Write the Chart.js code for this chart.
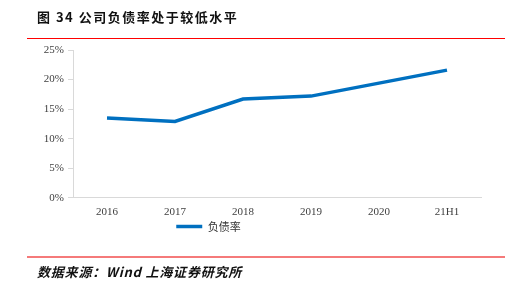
<!DOCTYPE html>
<html>
<head>
<meta charset="utf-8">
<script src="https://cdn.jsdelivr.net/npm/chart.js@4.4.0/dist/chart.umd.min.js"></script>
<style>
    html, body { margin: 0; padding: 0; background: #ffffff; }
    #wrap { position: relative; width: 524px; height: 283px; overflow: hidden; }
    #chart { position: absolute; left: 0; top: 0; }
    .title {
        position: absolute; left: 37px; top: 7px;
        font-family: "Noto Sans CJK SC", sans-serif; font-weight: bold;
        font-size: 13px; letter-spacing: 1.5px; color: #111111; white-space: nowrap;
    }
    .rule-top { position: absolute; left: 27px; top: 38px; width: 478px; height: 1px; background: #ff0000; }
    .rule-bottom { position: absolute; left: 27px; top: 256px; width: 478px; height: 2px; background: #f57a7a; }
    .source {
        position: absolute; left: 37px; top: 262px;
        font-family: "Noto Sans CJK SC", sans-serif; font-weight: bold; font-style: italic;
        font-size: 13px; letter-spacing: 0.8px; color: #111111; white-space: nowrap;
    }
</style>
</head>
<body>
<div id="wrap">
    <canvas id="chart" width="524" height="283"></canvas>
    <div class="title">图 34 公司负债率处于较低水平</div>
    <div class="rule-top"></div>
    <div class="rule-bottom"></div>
    <div class="source">数据来源：Wind 上海证券研究所</div>
</div>
<script>
const categories = ['2016', '2017', '2018', '2019', '2020', '21H1'];
const debtRatio = [13.5, 12.9, 16.7, 17.2, 19.4, 21.6];
const seriesName = '负债率';

const ctx = document.getElementById('chart');

// nudge the legend up and left so it sits where the original one is
const legendShift = {
    id: 'legendShift',
    afterLayout: function(chart) {
        if (chart.legend) {
            chart.legend.top -= 6;
            chart.legend.bottom -= 6;
            chart.legend.left -= 32;
            chart.legend.right -= 32;
        }
    }
};

const data = {
    labels: categories,
    datasets: [
        {
            label: seriesName,
            data: debtRatio,
            borderColor: '#0070c0',
            backgroundColor: '#0070c0',
            borderWidth: 3.5,
            pointRadius: 0,
            tension: 0
        }
    ]
};

const config = {
    type: 'line',
    data: data,
    plugins: [legendShift],
    options: {
        responsive: false,
        animation: false,
        devicePixelRatio: 1,
        layout: {
            padding: { top: 50, right: 43, left: 0, bottom: 35 }
        },
        scales: {
            x: {
                offset: true,
                grid: { display: false, drawTicks: false },
                border: { display: true, color: '#d9d9d9' },
                ticks: {
                    color: '#404040',
                    padding: 8,
                    font: { family: '"Liberation Serif", serif', size: 11 }
                }
            },
            y: {
                min: 0,
                max: 25,
                afterFit: function(scale) { scale.width = 73; },
                grid: { drawOnChartArea: false, drawTicks: true, tickLength: 5, color: '#d9d9d9' },
                border: { display: true, color: '#d9d9d9' },
                ticks: {
                    stepSize: 5,
                    color: '#404040',
                    padding: 4,
                    font: { family: '"Liberation Serif", serif', size: 11 },
                    callback: function(value) { return value + '%'; }
                }
            }
        },
        plugins: {
            legend: {
                position: 'bottom',
                labels: {
                    usePointStyle: true,
                    pointStyle: 'line',
                    pointStyleWidth: 26,
                    color: '#333333',
                    padding: 0,
                    font: { family: '"Noto Sans CJK SC", sans-serif', size: 11 }
                }
            },
            tooltip: { enabled: false }
        }
    }
};

new Chart(ctx, config);
</script>
</body>
</html>
